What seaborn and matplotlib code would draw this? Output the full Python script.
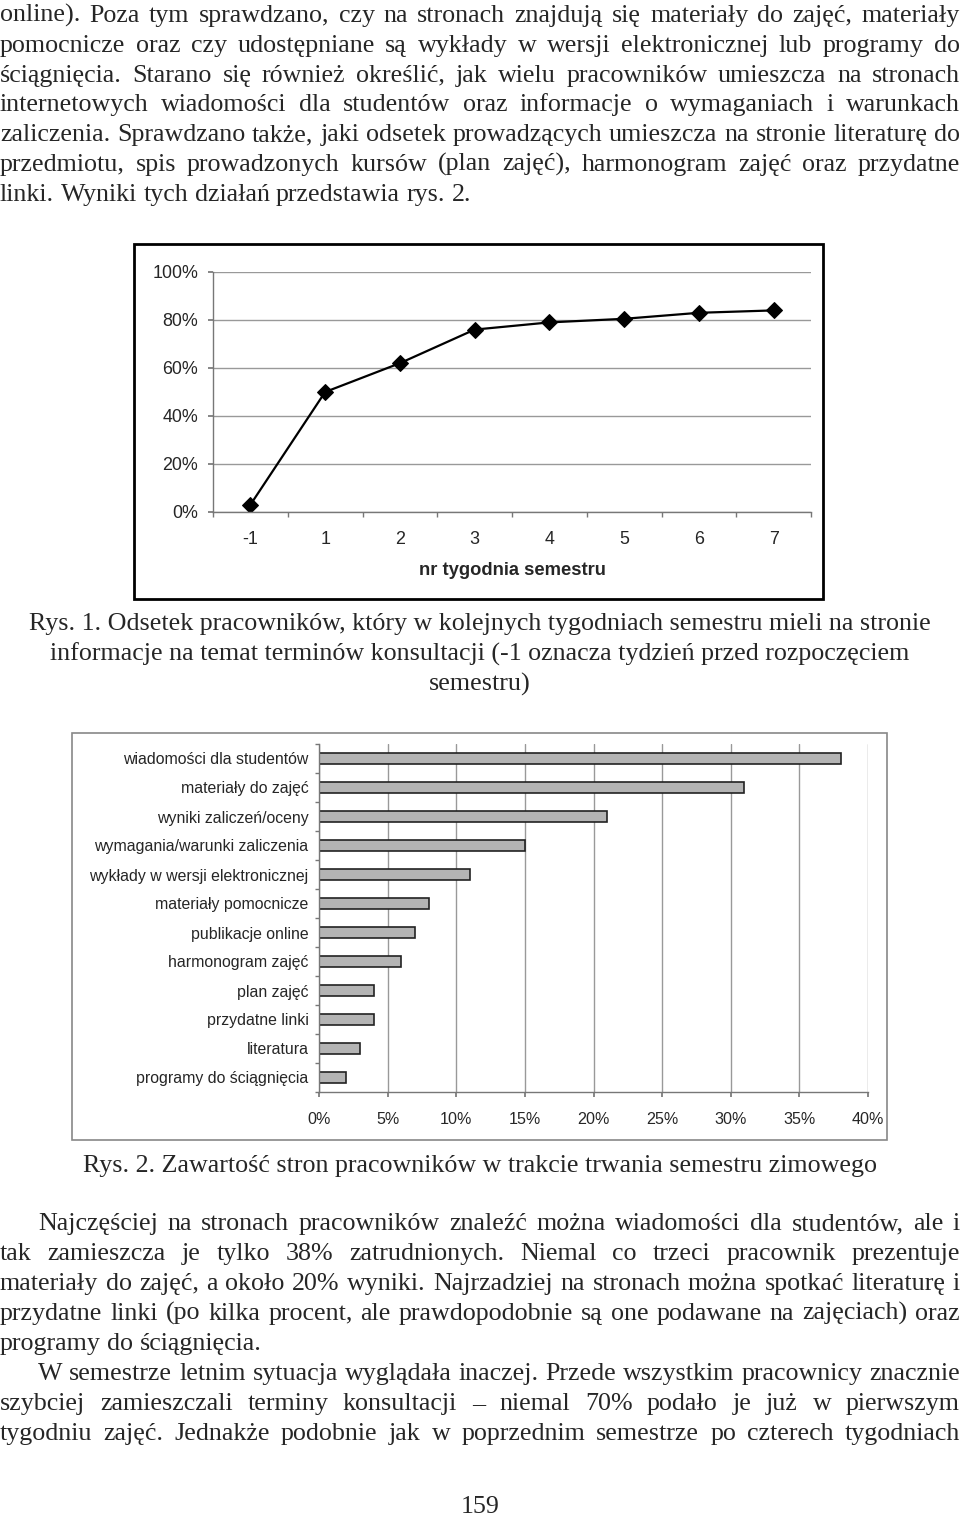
import matplotlib
matplotlib.use("Agg")
import matplotlib.pyplot as plt
import seaborn as sns
import numpy as np
import pandas as pd
from matplotlib.ticker import PercentFormatter
from matplotlib.patches import Rectangle

# ---------------- data ----------------
weeks = ["-1", "1", "2", "3", "4", "5", "6", "7"]
share_consult = [3, 50, 62, 76, 79, 80.5, 83, 84]

content_categories = [
    "wiadomości dla studentów",
    "materiały do zajęć",
    "wyniki zaliczeń/oceny",
    "wymagania/warunki zaliczenia",
    "wykłady w wersji elektronicznej",
    "materiały pomocnicze",
    "publikacje online",
    "harmonogram zajęć",
    "plan zajęć",
    "przydatne linki",
    "literatura",
    "programy do ściągnięcia",
]
content_share = [38, 31, 21, 15, 11, 8, 7, 6, 4, 4, 3, 2]

x_ticks_pct = [0, 5, 10, 15, 20, 25, 30, 35, 40]
y_ticks_pct = [0, 20, 40, 60, 80, 100]

para_top = [
    "online). Poza tym sprawdzano, czy na stronach znajdują się materiały do zajęć, materiały",
    "pomocnicze oraz czy udostępniane są wykłady w wersji elektronicznej lub programy do",
    "ściągnięcia. Starano się również określić, jak wielu pracowników umieszcza na stronach",
    "internetowych wiadomości dla studentów oraz informacje o wymaganiach i warunkach",
    "zaliczenia. Sprawdzano także, jaki odsetek prowadzących umieszcza na stronie literaturę do",
    "przedmiotu, spis prowadzonych kursów (plan zajęć), harmonogram zajęć oraz przydatne",
    "linki. Wyniki tych działań przedstawia rys. 2.",
]
caption1 = [
    "Rys. 1. Odsetek pracowników, który w kolejnych tygodniach semestru mieli na stronie",
    "informacje na temat terminów konsultacji (-1 oznacza tydzień przed rozpoczęciem",
    "semestru)",
]
caption2 = "Rys. 2. Zawartość stron pracowników w trakcie trwania semestru zimowego"
para_bottom = [
    "Najczęściej na stronach pracowników znaleźć można wiadomości dla studentów, ale i",
    "tak zamieszcza je tylko 38% zatrudnionych. Niemal co trzeci pracownik prezentuje",
    "materiały do zajęć, a około 20% wyniki. Najrzadziej na stronach można spotkać literaturę i",
    "przydatne linki (po kilka procent, ale prawdopodobnie są one podawane na zajęciach) oraz",
    "programy do ściągnięcia.",
    "W semestrze letnim sytuacja wyglądała inaczej. Przede wszystkim pracownicy znacznie",
    "szybciej zamieszczali terminy konsultacji – niemal 70% podało je już w pierwszym",
    "tygodniu zajęć. Jednakże podobnie jak w poprzednim semestrze po czterech tygodniach",
]
page_number = "159"

# ---------------- setup ----------------
W, H = 960, 1515
sns.set_theme(style="white")
plt.rcParams["font.family"] = ["Liberation Serif", "DejaVu Serif"]
SANS = ["Liberation Sans", "DejaVu Sans"]

fig = plt.figure(figsize=(W / 100, H / 100), dpi=100)
fig.patch.set_facecolor("white")


def fx(px):
    return px / W


def fy(py):
    return 1 - py / H


renderer = fig.canvas.get_renderer()
TXT = 18.7


def text_line(s, y, x0=0, x1=W, justify=True, size=TXT):
    words = s.split(" ")
    objs = [fig.text(0, fy(y), w, fontsize=size, va="baseline", ha="left") for w in words]
    widths = [o.get_window_extent(renderer).width for o in objs]
    if justify and len(words) > 1:
        gap = (x1 - x0 - sum(widths)) / (len(words) - 1)
    else:
        sp = fig.text(0, 0, "a a", fontsize=size)
        sp2 = fig.text(0, 0, "aa", fontsize=size)
        gap = sp.get_window_extent(renderer).width - sp2.get_window_extent(renderer).width
        sp.remove()
        sp2.remove()
    x = x0
    for o, w in zip(objs, widths):
        o.set_x(fx(x))
        x += w + gap


def center_line(s, y, cx=480, size=TXT):
    fig.text(fx(cx), fy(y), s, fontsize=size, va="baseline", ha="center")


# top paragraph
base = 22
for i, line in enumerate(para_top):
    text_line(line, base + i * 29.8, justify=(i < len(para_top) - 1))

# captions
for i, line in enumerate(caption1):
    center_line(line, 630 + i * 30.5)
center_line(caption2, 1172)

# bottom paragraph
indent = {0: 38, 5: 38}
for i, line in enumerate(para_bottom):
    text_line(line, 1230 + i * 30, x0=indent.get(i, 0), justify=(i != 4))
center_line(page_number, 1513)

# ---------------- chart 1: line ----------------
fig.patches.append(Rectangle((fx(134), fy(599)), (823 - 134) / W, (599 - 244) / H,
                             transform=fig.transFigure, fill=False, ec="black", lw=2))
ax1 = fig.add_axes([fx(213), fy(512), (811 - 213) / W, (512 - 272) / H])
df1 = pd.DataFrame({"pos": np.arange(len(weeks)), "share": share_consult})
sns.lineplot(data=df1, x="pos", y="share", ax=ax1, color="black", lw=1.6,
             marker="D", markersize=8, markeredgecolor="black", markerfacecolor="black")
ax1.set_xlim(-0.5, len(weeks) - 0.5)
ax1.set_ylim(0, 100)
ax1.set_yticks(y_ticks_pct)
ax1.yaxis.set_major_formatter(PercentFormatter(decimals=0))
ax1.set_xticks(np.arange(len(weeks)))
ax1.set_xticklabels(weeks)
ax1.set_xticks(np.arange(-0.5, len(weeks), 1), minor=True)
ax1.tick_params(axis="x", which="major", bottom=False, length=0, pad=14, labelsize=12.9)
ax1.tick_params(axis="x", which="minor", bottom=True, length=3.6, color="#777777", width=1)
ax1.tick_params(axis="y", left=True, length=3.6, color="#777777", pad=7, labelsize=12.9)
for lab in ax1.get_xticklabels() + ax1.get_yticklabels():
    lab.set_fontfamily(SANS)
ax1.yaxis.grid(True, color="#999999", lw=1)
ax1.xaxis.grid(False)
ax1.set_axisbelow(True)
for s in ["top", "right"]:
    ax1.spines[s].set_visible(False)
for s in ["left", "bottom"]:
    ax1.spines[s].set_color("#777777")
    ax1.spines[s].set_linewidth(1)
ax1.set_ylabel("")
ax1.set_xlabel("nr tygodnia semestru", fontsize=13.2, fontweight="bold", family=SANS, labelpad=9.5)
ax1.set_facecolor("white")

# ---------------- chart 2: bars ----------------
fig.patches.append(Rectangle((fx(72), fy(1140)), (887 - 72) / W, (1140 - 733) / H,
                             transform=fig.transFigure, fill=False, ec="#888888", lw=1.2))
ax2 = fig.add_axes([fx(319), fy(1092), (868 - 319) / W, (1092 - 744) / H])
df2 = pd.DataFrame({"kat": content_categories, "val": content_share})
sns.barplot(data=df2, x="val", y="kat", ax=ax2, orient="h", color="#b4b4b4",
            edgecolor="#222222", linewidth=1.2, width=0.4, saturation=1)
ax2.set_xlim(0, 40)
ax2.set_ylim(len(content_categories) - 0.5, -0.5)
ax2.set_xticks(x_ticks_pct)
ax2.xaxis.set_major_formatter(PercentFormatter(decimals=0))
ax2.set_yticks(np.arange(-0.5, len(content_categories), 1), minor=True)
ax2.tick_params(axis="y", which="major", left=False, length=0, pad=7.5, labelsize=11.4)
ax2.tick_params(axis="y", which="minor", left=True, length=3, color="#777777")
ax2.tick_params(axis="x", bottom=True, length=3.6, color="#777777", pad=10.5, labelsize=11.6)
for lab in ax2.get_xticklabels() + ax2.get_yticklabels():
    lab.set_fontfamily(SANS)
ax2.xaxis.grid(True, color="#999999", lw=1)
ax2.yaxis.grid(False)
ax2.set_axisbelow(True)
for s in ["top", "right"]:
    ax2.spines[s].set_visible(False)
for s in ["left", "bottom"]:
    ax2.spines[s].set_color("#777777")
    ax2.spines[s].set_linewidth(1)
ax2.set_xlabel("")
ax2.set_ylabel("")
ax2.set_facecolor("white")

fig.savefig("out.png", dpi=100, facecolor="white")
